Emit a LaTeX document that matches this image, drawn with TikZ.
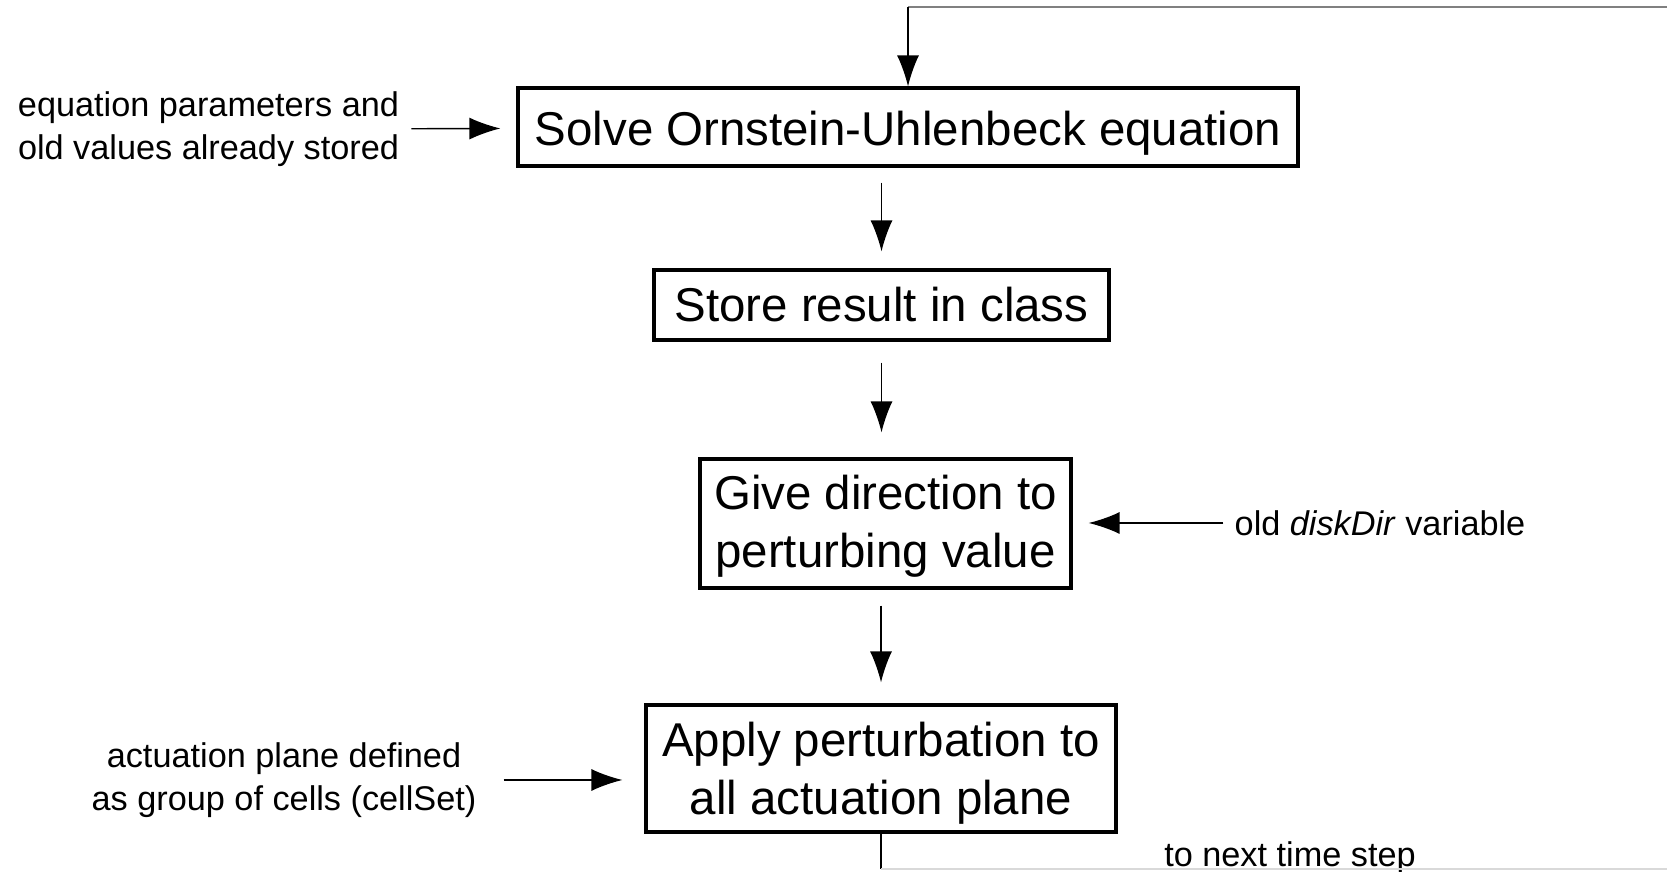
\documentclass[tikz,border=0pt]{standalone}
\usepackage{fontspec}
\setmainfont{Liberation Sans}
\usetikzlibrary{arrows.meta,positioning,calc}
\tikzset{>={Latex[length=6.2mm,width=4.4mm]}}
\tikzset{stepbox/.style={draw, line width=1.8pt, align=center, inner sep=0pt,
  font=\fontsize{27}{33}\selectfont}}
\tikzset{note/.style={align=center, inner sep=0pt, font=\fontsize{19.5}{24.5}\selectfont}}

\begin{document}
\begin{tikzpicture}
\useasboundingbox (0,0) rectangle (33.34,17.44);
% the four steps
\node[stepbox, minimum width=15.6cm, minimum height=1.56cm] (solve) at (18.16,14.90) {\rule{0pt}{27pt}Solve Ornstein-Uhlenbeck equation};
\node[stepbox, minimum width=9.1cm, minimum height=1.4cm] (store) at (17.63,11.34) {Store result in class};
\node[stepbox, minimum width=7.42cm, minimum height=2.58cm] (dir) at (17.71,6.97) {\rule{0pt}{23pt}Give direction to\\perturbing value};
\node[stepbox, minimum width=9.4cm, minimum height=2.54cm] (apply) at (17.62,2.07) {\rule{0pt}{25pt}Apply perturbation to\\all actuation plane};
% side notes
\node[note] (params) at (4.17,14.85) {equation parameters and\\old values already stored};
\node[note] (diskdir) at (27.6,6.98) {old \textit{diskDir} variable};
\node[note] (act) at (5.68,1.84) {actuation plane defined\\as group of cells (cellSet)};
\node[note] (next) at (25.8,0.28) {to next time step};
\coordinate (top) at (33.34,17.30);
\coordinate (bottom) at (33.34,0.06);
\begin{scope}[line width = 0.8pt]
\draw[->,shorten <=0.24cm,shorten >=0.32cm] (params) -- (solve);
\draw[->,shorten <=0.3cm,shorten >=0.34cm] (solve.south -| store) -- (store.north);
\draw[->,shorten <=0.42cm,shorten >=0.5cm] (store.south) -- (store.south |- dir.north);
\draw[->,shorten <=0.32cm,shorten >=0.42cm] (dir.south -| apply) -- (apply.north);
\draw[->,shorten <=0.22cm,shorten >=0.32cm] (diskdir.west) -- (diskdir.west -| dir.east);
\draw[->,shorten <=0.54cm,shorten >=0.44cm] (act.east) -- (act.east -| apply.west);
% loop back to the next time step
\draw (apply.south) -- (apply.south |- bottom);
\draw[color=gray!30] (apply.south |- bottom) -- (bottom);
\draw[color=gray] (top) -- (top -| solve.north);
\draw[->] (top -| solve.north) -- (solve.north);
\end{scope}
\end{tikzpicture}
\end{document}
